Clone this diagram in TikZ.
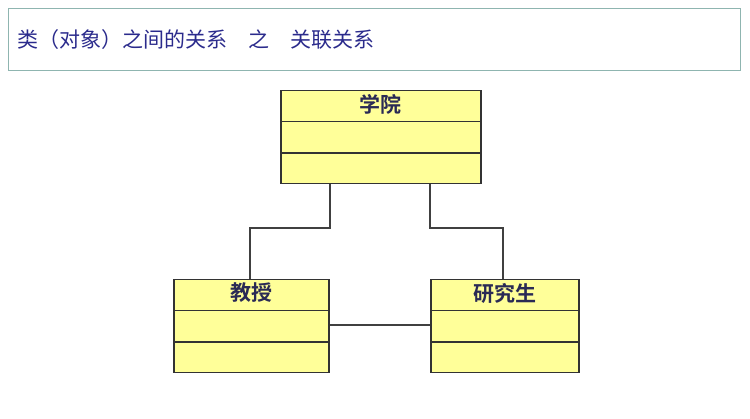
\documentclass[tikz,border=0pt]{standalone}
\usepackage{fontspec}
\usetikzlibrary{calc}
\newfontfamily\cjk{Noto Sans CJK SC}
\newfontfamily\cjkb{Noto Sans CJK SC Bold}
\definecolor{titlec}{HTML}{2B2B8C}
\definecolor{boxfill}{HTML}{FFFF99}
\definecolor{frame}{HTML}{8FB5B0}
\definecolor{lblc}{HTML}{2A2A55}
\begin{document}
\begin{tikzpicture}[x=1pt,y=-1pt,
  cls/.style={draw=black!80,line width=1.5pt,fill=boxfill,minimum width=#1,minimum height=93pt,inner sep=0pt},
  lbl/.style={font=\cjkb\fontsize{21}{21}\selectfont,text=lblc},
  conn/.style={draw=black!75,line width=1.2pt}]
\useasboundingbox (0,0) rectangle (750,419);
\node[draw=frame,line width=1pt,minimum width=732pt,minimum height=62pt,anchor=north west] (title) at (8,8) {};
\node[anchor=west,text=titlec,font=\cjk\fontsize{21}{21}\selectfont] (tt) at (14,40) {类（对象）之间的关系\quad 之\quad 关联关系};
\node[cls=200pt,anchor=north west] (xy) at (280,90) {};
\node[cls=155pt,anchor=north west] (js) at (173,279) {};
\node[cls=148pt,anchor=north west] (yjs) at (430,279) {};
\foreach \n in {xy,js,yjs}{
  \draw[line width=1.5pt,black!80] ($(\n.north west)!0.333!(\n.south west)$) -- ($(\n.north east)!0.333!(\n.south east)$);
  \draw[line width=1.5pt,black!80] ($(\n.north west)!0.667!(\n.south west)$) -- ($(\n.north east)!0.667!(\n.south east)$);
}
\node[lbl] (t1) at ($(xy.north)+(0,14)$) {学院};
\node[lbl] (t2) at ($(js.north)+(0,14)$) {教授};
\node[lbl] (t3) at ($(yjs.north)+(0,14)$) {研究生};
\coordinate (a1) at (330,184); \coordinate (a2) at (250,279);
\coordinate (b1) at (430,184); \coordinate (b2) at (503,279);
\draw[conn] (a1) |- (250,228) -- (a2);
\draw[conn] (b1) |- (503,228) -- (b2);
\draw[conn] (js.east |- 0,325) -- (yjs.west |- 0,325);
\end{tikzpicture}
\end{document}
